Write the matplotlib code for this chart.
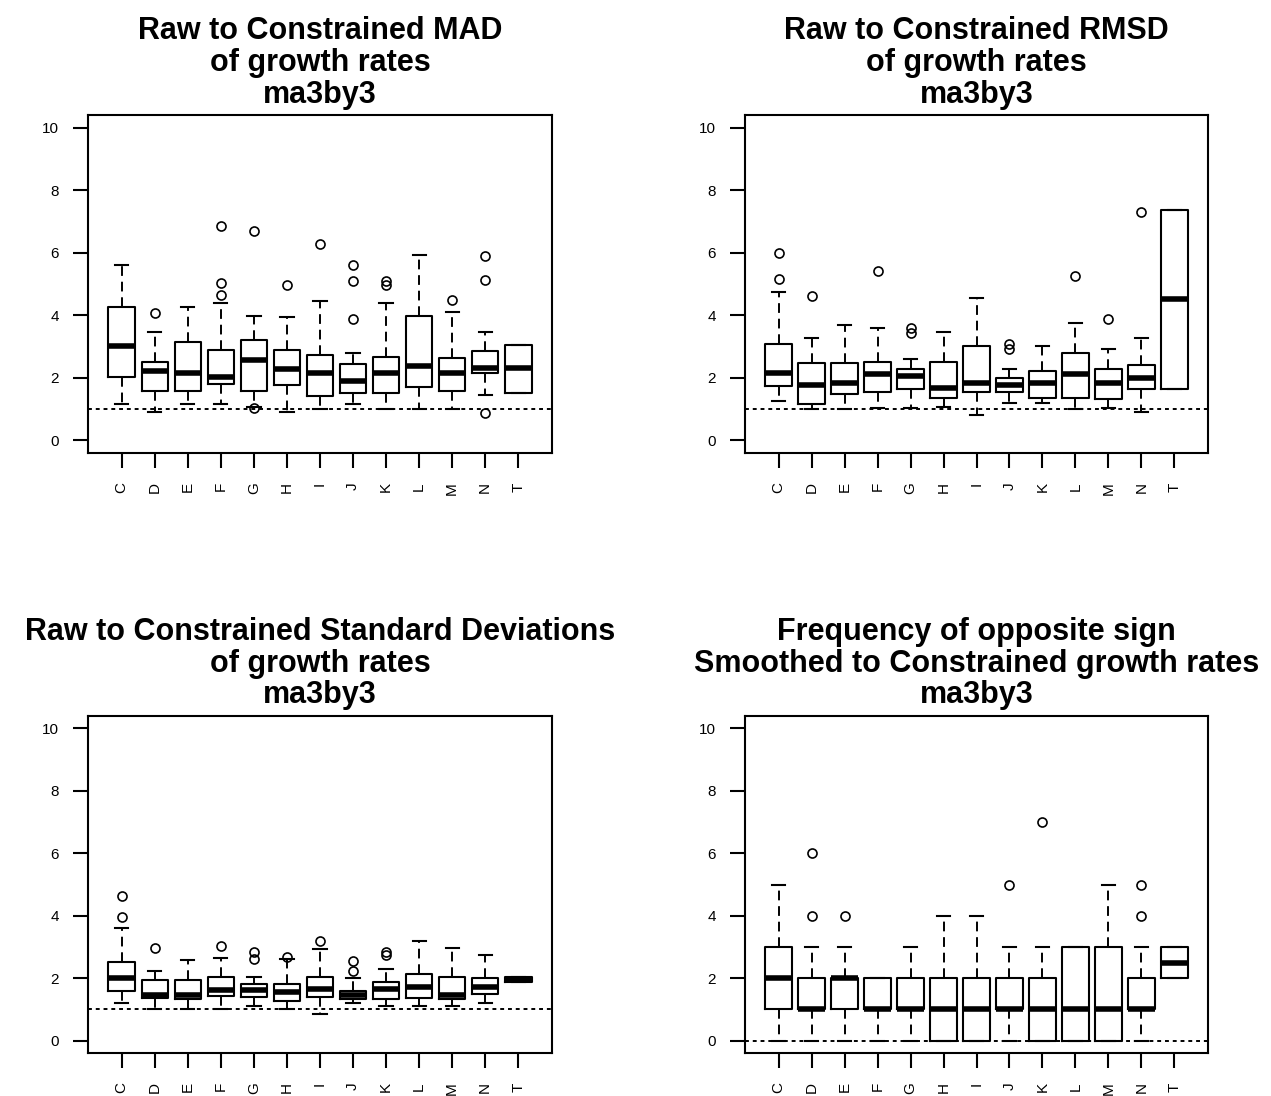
import matplotlib.pyplot as plt

plt.rcParams["font.family"] = ["Liberation Sans", "DejaVu Sans"]

CATS = list("CDEFGHIJKLMNT")

# Panel 1: Raw to Constrained MAD
MAD_LO = [1.18, 0.90, 1.18, 1.18, 1.08, 0.90, 1.02, 1.18, 1.02, 0.99, 1.02, 1.44, 1.52]
MAD_Q1 = [2.04, 1.59, 1.59, 1.80, 1.59, 1.76, 1.41, 1.52, 1.52, 1.71, 1.59, 2.16, 1.52]
MAD_MED = [3.03, 2.23, 2.16, 2.04, 2.57, 2.28, 2.16, 1.89, 2.16, 2.39, 2.16, 2.33, 2.33]
MAD_Q3 = [4.27, 2.51, 3.14, 2.90, 3.20, 2.90, 2.73, 2.45, 2.67, 3.98, 2.62, 2.85, 3.06]
MAD_HI = [5.60, 3.47, 4.27, 4.40, 3.98, 3.93, 4.45, 2.79, 4.40, 5.93, 4.11, 3.47, 3.06]
MAD_OUT = [[], [4.06], [], [6.85, 5.02, 4.64], [6.68, 1.04], [4.97], [6.28],
           [5.60, 5.09, 3.87], [5.09, 4.96], [], [4.50], [5.88, 5.14, 0.88], []]

# Panel 2: Raw to Constrained RMSD
RMSD_LO = [1.25, 1.02, 1.02, 1.04, 1.04, 1.08, 0.82, 1.21, 1.21, 1.02, 1.04, 0.92, 1.66]
RMSD_Q1 = [1.73, 1.16, 1.48, 1.54, 1.64, 1.37, 1.54, 1.54, 1.37, 1.37, 1.31, 1.66, 1.66]
RMSD_MED = [2.17, 1.78, 1.83, 2.12, 2.07, 1.68, 1.83, 1.78, 1.83, 2.12, 1.83, 2.00, 4.53]
RMSD_Q3 = [3.08, 2.46, 2.46, 2.51, 2.29, 2.51, 3.02, 2.00, 2.23, 2.79, 2.29, 2.41, 7.37]
RMSD_HI = [4.75, 3.26, 3.70, 3.59, 2.59, 3.48, 4.56, 2.29, 3.02, 3.74, 2.92, 3.26, 7.37]
RMSD_OUT = [[5.99, 5.17], [4.63], [], [5.42], [3.60, 3.45], [], [],
            [3.08, 2.92], [], [5.25], [3.89], [7.31], []]

# Panel 3: Raw to Constrained Standard Deviations
SD_LO = [1.20, 1.02, 1.02, 1.02, 1.10, 1.02, 0.86, 1.20, 1.10, 1.10, 1.10, 1.20, 1.86]
SD_Q1 = [1.60, 1.37, 1.32, 1.44, 1.38, 1.26, 1.38, 1.32, 1.32, 1.37, 1.32, 1.48, 1.86]
SD_MED = [2.01, 1.45, 1.47, 1.61, 1.61, 1.55, 1.64, 1.46, 1.66, 1.71, 1.47, 1.72, 1.93]
SD_Q3 = [2.52, 1.95, 1.95, 2.05, 1.82, 1.82, 2.05, 1.60, 1.88, 2.12, 2.05, 2.01, 2.02]
SD_HI = [3.60, 2.22, 2.59, 2.63, 2.04, 2.62, 2.93, 2.01, 2.30, 3.20, 2.96, 2.74, 2.02]
SD_OUT = [[4.64, 3.95], [2.98], [], [3.03], [2.83, 2.62], [2.69], [3.20],
          [2.54, 2.24], [2.83, 2.74], [], [], [], []]

# Panel 4: Frequency of opposite sign
FREQ_LO = [0, 0, 0, 0, 0, 0, 0, 0, 0, 0, 0, 0, 2]
FREQ_Q1 = [1, 1, 1, 1, 1, 0, 0, 1, 0, 0, 0, 1, 2]
FREQ_MED = [2, 1, 2, 1, 1, 1, 1, 1, 1, 1, 1, 1, 2.5]
FREQ_Q3 = [3, 2, 2, 2, 2, 2, 2, 2, 2, 3, 3, 2, 3]
FREQ_HI = [5, 3, 3, 2, 3, 4, 4, 3, 3, 3, 5, 3, 3]
FREQ_OUT = [[], [4, 6], [4], [], [], [], [], [5], [7], [], [], [4, 5], []]

TITLES = [
    "Raw to Constrained MAD\nof growth rates\nma3by3",
    "Raw to Constrained RMSD\nof growth rates\nma3by3",
    "Raw to Constrained Standard Deviations\nof growth rates\nma3by3",
    "Frequency of opposite sign\nSmoothed to Constrained growth rates\nma3by3",
]
REF_LINES = [1, 1, 1, 0]
YTICKS = [0, 2, 4, 6, 8, 10]

PANELS = [
    (MAD_LO, MAD_Q1, MAD_MED, MAD_Q3, MAD_HI, MAD_OUT),
    (RMSD_LO, RMSD_Q1, RMSD_MED, RMSD_Q3, RMSD_HI, RMSD_OUT),
    (SD_LO, SD_Q1, SD_MED, SD_Q3, SD_HI, SD_OUT),
    (FREQ_LO, FREQ_Q1, FREQ_MED, FREQ_Q3, FREQ_HI, FREQ_OUT),
]


def box_stats(lo, q1, med, q3, hi, out):
    return [
        dict(label=c, whislo=a, q1=b, med=m, q3=d, whishi=e, fliers=f)
        for c, a, b, m, d, e, f in zip(CATS, lo, q1, med, q3, hi, out)
    ]


W, H = 1271, 1096
fig = plt.figure(figsize=(W / 100, H / 100), dpi=100)

# axes rectangles in pixels: left, top, right, bottom
RECTS = [(88, 115, 552, 453), (745, 115, 1208, 453),
         (88, 716, 552, 1053), (745, 716, 1208, 1053)]

n = len(CATS)
for rect, title, ref, data in zip(RECTS, TITLES, REF_LINES, PANELS):
    l, t, r, b = rect
    ax = fig.add_axes([l / W, 1 - b / H, (r - l) / W, (b - t) / H])
    ax.bxp(
        box_stats(*data),
        positions=range(1, n + 1),
        widths=0.8,
        boxprops=dict(color="black", linewidth=1.5),
        whiskerprops=dict(color="black", linewidth=1.4, linestyle=(0, (5, 3))),
        capprops=dict(color="black", linewidth=1.5),
        capwidths=0.4,
        medianprops=dict(color="black", linewidth=4, solid_capstyle="butt"),
        flierprops=dict(marker="o", markerfacecolor="none", markeredgecolor="black",
                        markersize=6.5, markeredgewidth=1.2),
    )
    ax.axhline(ref, color="black", linewidth=1.4, linestyle=(0, (2, 2)), zorder=0.5)
    ax.set_xlim(0.5 - 0.52, n + 0.5 + 0.52)
    ax.set_ylim(-0.4, 10.4)
    ax.set_yticks(YTICKS)
    ax.set_xticks(range(1, n + 1))
    ax.set_xticklabels(CATS, rotation=90)
    ax.tick_params(axis="both", length=11, width=1.5, pad=10, labelsize=11)
    for s in ax.spines.values():
        s.set_linewidth(1.5)
    ax.set_title(title, fontsize=22, fontweight="bold", linespacing=1.08, pad=9)

fig.savefig("out.png", dpi=100)
